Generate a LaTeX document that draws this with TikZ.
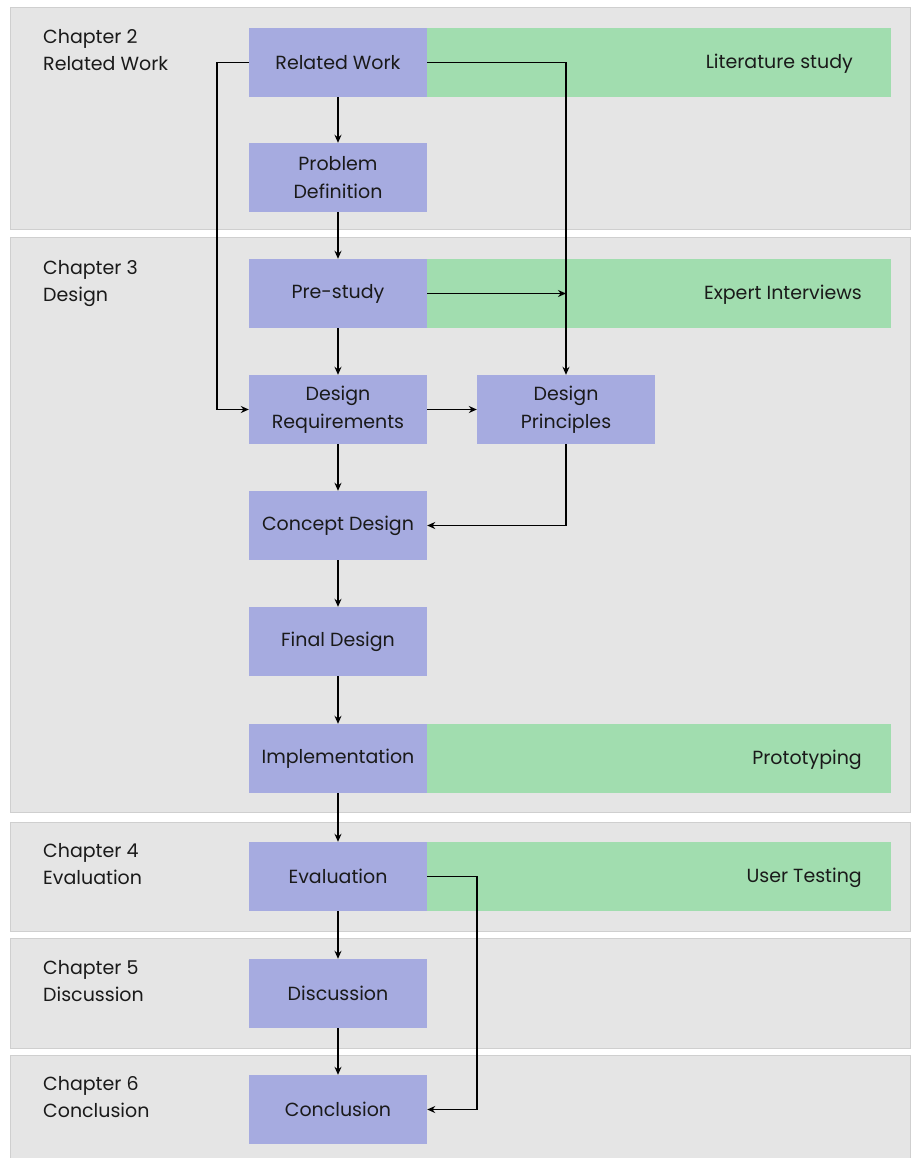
\documentclass[tikz,border=0pt]{standalone}
\usepackage{fontspec}
\setmainfont{Poppins}
\usetikzlibrary{arrows.meta}
\definecolor{panelfill}{HTML}{E5E5E5}
\definecolor{panelline}{HTML}{CFCFCF}
\definecolor{boxblue}{HTML}{A6ABE0}
\definecolor{boxgreen}{HTML}{A1DDAF}
\definecolor{txt}{HTML}{1A1A1A}
\tikzset{
  panel/.style={fill=panelfill, draw=panelline, line width=1pt},
  stepbox/.style={fill=boxblue, minimum width=178pt, minimum height=69pt, inner sep=0pt, align=center, text=txt, font=\fontsize{19}{28}\selectfont},
  greenbar/.style={fill=boxgreen, minimum width=464pt, minimum height=69pt, inner sep=0pt},
  bartext/.style={anchor=east, text=txt, inner sep=0pt, font=\fontsize{19}{28}\selectfont},
  chaptext/.style={anchor=north west, align=left, text=txt, inner sep=0pt, font=\fontsize{19}{27.5}\selectfont},
  conn/.style={line width=1.8pt, -{Stealth[length=8pt,width=7pt]}}
}
\begin{document}
\begin{tikzpicture}[x=1pt,y=-1pt]
\useasboundingbox (0,0) rectangle (911,1158);
% panels
\path[panel] (10,8) rectangle (910,230);
\path[panel] (10,238) rectangle (910,812);
\path[panel] (10,822) rectangle (910,931);
\path[panel] (10,938) rectangle (910,1048);
\path[panel] (10,1055) rectangle (910,1165);
% chapter labels
\node[chaptext] (c2) at (43,29) {Chapter 2\\Related Work};
\node[chaptext] (c3) at (43,260) {Chapter 3\\Design};
\node[chaptext] (c4) at (43,843) {Chapter 4\\Evaluation};
\node[chaptext] (c5) at (43,960) {Chapter 5\\Discussion};
\node[chaptext] (c6) at (43,1076) {Chapter 6\\Conclusion};
% green bars
\node[greenbar] (g1) at (659,62.5) {};
\node[greenbar] (g2) at (659,293.5) {};
\node[greenbar] (g3) at (659,758.5) {};
\node[greenbar] (g4) at (659,876.5) {};
\node[bartext] (t1) at (853,64) {Literature study};
\node[bartext] (t2) at (862,295) {Expert Interviews};
\node[bartext] (t3) at (862,760) {Prototyping};
\node[bartext] (t4) at (862,878) {User Testing};
% blue boxes
\node[stepbox] (rw) at (338,62.5) {Related Work};
\node[stepbox] (pd) at (338,177.5) {Problem\\Definition};
\node[stepbox] (ps) at (338,293.5) {Pre-study};
\node[stepbox] (dr) at (338,409.5) {Design\\Requirements};
\node[stepbox] (dp) at (566,409.5) {Design\\Principles};
\node[stepbox] (cd) at (338,525.5) {Concept Design};
\node[stepbox] (fd) at (338,641.5) {Final Design};
\node[stepbox] (im) at (338,758.5) {Implementation};
\node[stepbox] (ev) at (338,876.5) {Evaluation};
\node[stepbox] (di) at (338,993.5) {Discussion};
\node[stepbox] (co) at (338,1109.5) {Conclusion};
% connectors
\draw[conn] (rw) -- (pd);
\draw[conn] (pd) -- (ps);
\draw[conn] (ps) -- (dr);
\draw[conn] (dr) -- (cd);
\draw[conn] (cd) -- (fd);
\draw[conn] (fd) -- (im);
\draw[conn] (im) -- (ev);
\draw[conn] (ev) -- (di);
\draw[conn] (di) -- (co);
\draw[conn] (rw.west) -- (217,62.5) -- (217,409.5) -- (dr.west);
\draw[conn] (rw.east) -| (dp.north);
\coordinate (meet) at (566,293.5);
\draw[conn] (ps.east) -- (meet);
\draw[conn] (dr) -- (dp);
\draw[conn] (dp.south) |- (cd.east);
\draw[conn] (ev.east) -- (477,876.5) -- (477,1109.5) -- (co.east);
\end{tikzpicture}
\end{document}
